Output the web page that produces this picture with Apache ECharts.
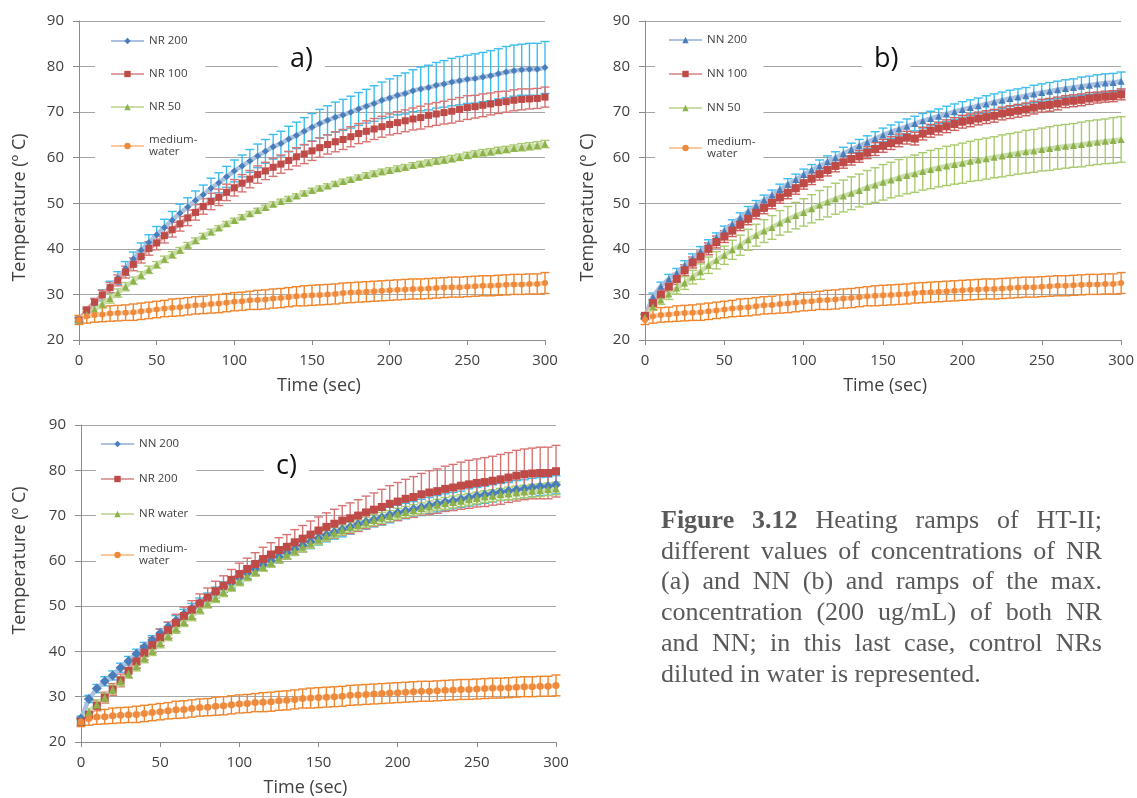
<!DOCTYPE html>
<html>
<head>
<meta charset="utf-8">
<script src="https://cdn.jsdelivr.net/npm/echarts@6/dist/echarts.min.js"></script>
<style>
  html, body { margin: 0; padding: 0; background: #fff; }
  #chart { position: absolute; left: 0; top: 0; width: 1137px; height: 798px; }
  #caption { position: absolute; left: 661px; top: 505px; width: 441px;
    font-family: 'Liberation Serif', 'Times New Roman', serif; font-size: 26px;
    line-height: 30.7px; color: #595959; }
  #caption div { text-align: justify; text-align-last: justify; white-space: nowrap; }
  #caption div.last { text-align: left; text-align-last: left; }
</style>
</head>
<body>
<div id="chart"></div>
<div id="caption">
  <div><b>Figure 3.12</b> Heating ramps of HT-II;</div>
  <div>different values of concentrations of NR</div>
  <div>(a) and NN (b) and ramps of the max.</div>
  <div>concentration (200 ug/mL) of both NR</div>
  <div>and NN; in this last case, control NRs</div>
  <div class="last">diluted in water is represented.</div>
</div>
<script>
// tiempo (s)
const times = [0, 5, 10, 15, 20, 25, 30, 35, 40, 45,
  50, 55, 60, 65, 70, 75, 80, 85, 90, 95,
  100, 105, 110, 115, 120, 125, 130, 135, 140, 145,
  150, 155, 160, 165, 170, 175, 180, 185, 190, 195,
  200, 205, 210, 215, 220, 225, 230, 235, 240, 245,
  250, 255, 260, 265, 270, 275, 280, 285, 290, 295,
  300];

// NR 200
const nr200 = [24.4, 26.0, 28.0, 29.8, 31.6, 33.6, 35.7, 37.8, 39.7, 41.4,
  43.1, 44.7, 46.3, 47.8, 49.2, 50.6, 51.9, 53.3, 54.5, 55.8,
  57.1, 58.2, 59.3, 60.4, 61.4, 62.4, 63.1, 64.1, 64.9, 65.8,
  66.7, 67.5, 68.2, 68.9, 69.4, 70.0, 70.7, 71.3, 71.9, 72.6,
  73.1, 73.7, 74.1, 74.7, 75.1, 75.4, 75.9, 76.2, 76.6, 76.9,
  77.2, 77.4, 77.7, 78.0, 78.4, 78.8, 79.1, 79.3, 79.4, 79.4,
  79.8];
const nr200Err = [0.6, 0.9, 1.1, 1.2, 1.3, 1.4, 1.5, 1.5, 1.6, 1.7,
  1.8, 1.8, 1.9, 2.0, 2.0, 2.1, 2.1, 2.2, 2.2, 2.3,
  2.4, 2.4, 2.5, 2.6, 2.6, 2.7, 2.7, 2.8, 2.9, 3.0,
  3.0, 3.1, 3.2, 3.3, 3.4, 3.5, 3.6, 3.7, 3.9, 4.0,
  4.2, 4.3, 4.5, 4.6, 4.8, 4.9, 5.0, 5.1, 5.2, 5.3,
  5.3, 5.4, 5.4, 5.5, 5.5, 5.6, 5.6, 5.6, 5.7, 5.7,
  5.7];

// NR 100
const nr100 = [24.4, 26.6, 28.3, 29.9, 31.5, 33.1, 34.9, 36.6, 38.3, 40.1,
  41.3, 42.9, 44.2, 45.5, 46.8, 48.0, 49.3, 50.4, 51.3, 52.4,
  53.4, 54.4, 55.3, 56.3, 57.1, 57.9, 58.6, 59.4, 60.2, 60.8,
  61.5, 62.2, 62.9, 63.5, 64.0, 64.6, 65.3, 65.8, 66.3, 66.8,
  67.3, 67.7, 68.1, 68.5, 68.8, 69.3, 69.6, 69.9, 70.2, 70.6,
  71.0, 71.2, 71.5, 71.8, 72.1, 72.3, 72.6, 72.8, 72.9, 73.0,
  73.3];
const nr100Err = [0.3, 0.6, 0.8, 1.0, 1.1, 1.2, 1.3, 1.4, 1.4, 1.5,
  1.5, 1.6, 1.6, 1.6, 1.7, 1.7, 1.7, 1.8, 1.8, 1.8,
  1.8, 1.9, 1.9, 1.9, 1.9, 2.0, 2.0, 2.0, 2.0, 2.1,
  2.1, 2.1, 2.1, 2.2, 2.2, 2.2, 2.2, 2.3, 2.3, 2.3,
  2.3, 2.4, 2.4, 2.4, 2.5, 2.5, 2.5, 2.5, 2.6, 2.6,
  2.6, 2.5, 2.5, 2.4, 2.4, 2.3, 2.3, 2.3, 2.2, 2.2,
  2.2];

// NR 50
const nr50 = [24.4, 25.6, 26.8, 27.9, 29.1, 30.3, 31.7, 33.0, 34.2, 35.4,
  36.5, 37.7, 38.7, 39.7, 40.8, 41.8, 42.8, 43.7, 44.6, 45.5,
  46.2, 47.0, 47.7, 48.4, 49.1, 49.8, 50.4, 51.0, 51.6, 52.2,
  52.8, 53.3, 53.8, 54.3, 54.8, 55.2, 55.7, 56.1, 56.5, 56.9,
  57.2, 57.6, 57.9, 58.3, 58.6, 58.9, 59.2, 59.5, 59.8, 60.1,
  60.5, 60.8, 61.1, 61.3, 61.6, 61.8, 62.1, 62.3, 62.5, 62.7,
  63.0];
const nr50Err = [0.3, 0.6, 0.8, 0.9, 1.0, 0.9, 0.9, 0.8, 0.8, 0.8,
  0.7, 0.7, 0.7, 0.6, 0.6, 0.6, 0.6, 0.6, 0.5, 0.5,
  0.5, 0.5, 0.5, 0.5, 0.5, 0.5, 0.5, 0.5, 0.5, 0.5,
  0.5, 0.5, 0.5, 0.5, 0.5, 0.5, 0.5, 0.6, 0.6, 0.6,
  0.6, 0.6, 0.6, 0.6, 0.6, 0.6, 0.6, 0.7, 0.7, 0.7,
  0.7, 0.7, 0.7, 0.7, 0.7, 0.7, 0.7, 0.8, 0.8, 0.8,
  0.8];

// medium-water (control, igual en a, b, c)
const water = [24.4, 25.2, 25.5, 25.6, 25.8, 25.9, 26.0, 26.1, 26.3, 26.5,
  26.7, 26.9, 27.1, 27.2, 27.4, 27.6, 27.7, 27.9, 28.0, 28.2,
  28.4, 28.5, 28.7, 28.8, 28.9, 29.1, 29.2, 29.4, 29.6, 29.7,
  29.8, 29.9, 30.0, 30.1, 30.3, 30.4, 30.5, 30.6, 30.7, 30.8,
  30.9, 31.0, 31.1, 31.2, 31.2, 31.3, 31.4, 31.5, 31.6, 31.6,
  31.7, 31.8, 31.9, 31.9, 32.0, 32.1, 32.2, 32.2, 32.3, 32.3,
  32.5];
const waterErr = [1.0, 1.5, 1.6, 1.6, 1.7, 1.7, 1.7, 1.8, 1.8, 1.8,
  1.8, 1.8, 1.9, 1.9, 1.9, 1.9, 1.9, 2.0, 2.0, 2.0,
  2.0, 2.0, 2.0, 2.1, 2.1, 2.1, 2.1, 2.1, 2.1, 2.2,
  2.2, 2.2, 2.2, 2.2, 2.2, 2.2, 2.2, 2.2, 2.2, 2.2,
  2.2, 2.2, 2.2, 2.2, 2.2, 2.2, 2.2, 2.2, 2.2, 2.2,
  2.2, 2.2, 2.2, 2.2, 2.2, 2.2, 2.2, 2.2, 2.2, 2.2,
  2.3];

// NN 200
const nn200 = [25.2, 29.5, 31.8, 33.4, 34.7, 36.4, 37.9, 39.5, 41.0, 42.5,
  44.0, 45.4, 46.8, 48.2, 49.5, 50.7, 51.8, 53.0, 54.2, 55.2,
  56.3, 57.3, 58.2, 59.1, 60.0, 60.9, 61.8, 62.6, 63.4, 64.2,
  65.0, 65.7, 66.3, 66.9, 67.5, 68.1, 68.6, 69.1, 69.6, 70.1,
  70.6, 71.0, 71.4, 71.8, 72.2, 72.6, 73.0, 73.3, 73.6, 74.0,
  74.3, 74.6, 74.9, 75.2, 75.4, 75.7, 75.9, 76.2, 76.4, 76.5,
  76.8];
const nn200Err = [0.5, 0.8, 0.9, 1.0, 1.0, 1.0, 1.0, 1.0, 1.0, 1.0,
  1.0, 1.0, 1.1, 1.1, 1.1, 1.1, 1.1, 1.2, 1.2, 1.2,
  1.2, 1.2, 1.3, 1.3, 1.3, 1.4, 1.4, 1.4, 1.4, 1.5,
  1.5, 1.5, 1.5, 1.6, 1.6, 1.6, 1.6, 1.6, 1.7, 1.7,
  1.7, 1.7, 1.7, 1.8, 1.8, 1.8, 1.8, 1.8, 1.8, 1.9,
  1.9, 1.9, 1.9, 1.9, 1.9, 2.0, 2.0, 2.0, 2.0, 2.0,
  2.0];

// NN 100
const nn100 = [25.3, 28.1, 30.0, 31.7, 33.4, 35.3, 37.0, 38.3, 40.0, 41.5,
  42.7, 44.0, 45.3, 46.6, 47.9, 49.0, 50.1, 51.3, 52.3, 53.3,
  54.4, 55.4, 56.4, 57.3, 58.2, 59.0, 59.7, 60.3, 61.1, 61.9,
  62.6, 63.2, 63.8, 64.4, 64.2, 65.3, 65.9, 66.4, 66.9, 67.4,
  67.9, 68.2, 68.6, 68.9, 69.2, 69.7, 70.0, 70.3, 70.6, 71.0,
  71.4, 71.6, 71.9, 72.3, 72.5, 72.7, 73.0, 73.2, 73.4, 73.5,
  73.9];
const nn100Err = [0.4, 0.8, 1.0, 1.1, 1.2, 1.2, 1.2, 1.2, 1.3, 1.3,
  1.3, 1.3, 1.3, 1.3, 1.3, 1.3, 1.3, 1.3, 1.3, 1.3,
  1.3, 1.3, 1.3, 1.3, 1.3, 1.3, 1.3, 1.3, 1.3, 1.4,
  1.4, 1.4, 1.4, 1.4, 1.4, 1.4, 1.4, 1.4, 1.4, 1.4,
  1.4, 1.4, 1.4, 1.4, 1.4, 1.4, 1.4, 1.4, 1.4, 1.4,
  1.4, 1.4, 1.4, 1.3, 1.3, 1.3, 1.3, 1.2, 1.2, 1.2,
  1.2];

// NN 50
const nn50 = [25.0, 27.3, 28.8, 30.1, 31.4, 32.5, 33.8, 35.0, 36.4, 37.5,
  38.6, 39.8, 40.8, 42.0, 43.0, 43.9, 44.7, 45.7, 46.5, 47.3,
  48.0, 48.8, 49.6, 50.3, 51.0, 51.6, 52.2, 52.8, 53.5, 54.0,
  54.6, 55.1, 55.6, 56.1, 56.5, 57.0, 57.4, 57.8, 58.2, 58.5,
  58.8, 59.2, 59.5, 59.8, 60.1, 60.4, 60.7, 61.0, 61.3, 61.5,
  61.8, 62.0, 62.3, 62.5, 62.7, 62.9, 63.2, 63.4, 63.6, 63.8,
  64.0];
const nn50Err = [0.5, 0.8, 1.0, 1.2, 1.3, 1.4, 1.5, 1.7, 1.8, 1.9,
  2.0, 2.1, 2.2, 2.3, 2.4, 2.5, 2.6, 2.7, 2.8, 2.9,
  3.0, 3.1, 3.2, 3.3, 3.4, 3.5, 3.6, 3.6, 3.7, 3.8,
  3.9, 3.9, 4.0, 4.0, 4.1, 4.1, 4.2, 4.2, 4.3, 4.3,
  4.4, 4.4, 4.5, 4.5, 4.5, 4.6, 4.6, 4.6, 4.7, 4.7,
  4.7, 4.8, 4.8, 4.8, 4.8, 4.9, 4.9, 4.9, 4.9, 5.0,
  5.0];

// NR water
const nrWater = [24.6, 26.6, 28.3, 29.8, 31.6, 33.4, 35.1, 36.7, 38.5, 40.1,
  41.8, 43.4, 45.0, 46.5, 47.8, 49.3, 50.6, 51.8, 53.1, 54.3,
  55.5, 56.6, 57.6, 58.7, 59.6, 60.5, 61.4, 62.3, 63.1, 63.9,
  64.7, 65.5, 66.2, 66.8, 67.4, 67.9, 68.5, 69.0, 69.5, 69.9,
  70.4, 70.8, 71.2, 71.6, 72.0, 72.4, 72.7, 73.0, 73.3, 73.6,
  73.9, 74.2, 74.4, 74.7, 74.9, 75.1, 75.3, 75.5, 75.6, 75.8,
  76.0];
const nrWaterErr = [0.5, 0.8, 1.0, 1.0, 1.0, 1.0, 1.0, 1.0, 1.0, 1.0,
  1.0, 1.0, 1.0, 1.0, 1.0, 1.0, 1.0, 1.0, 1.0, 1.0,
  1.0, 1.0, 1.0, 1.0, 1.0, 1.0, 1.0, 1.1, 1.1, 1.1,
  1.1, 1.1, 1.1, 1.1, 1.1, 1.1, 1.1, 1.2, 1.2, 1.2,
  1.2, 1.2, 1.2, 1.2, 1.2, 1.2, 1.3, 1.3, 1.3, 1.3,
  1.3, 1.3, 1.3, 1.3, 1.4, 1.4, 1.4, 1.4, 1.4, 1.4,
  1.4];

const yTicks = [20, 90, 10];   // min, max, paso
const xTicks = [0, 300, 50];

const FONT = 'Open Sans';
const TXT = '#404040';
const AXIS = '#8c8c8c';

// colores estilo Excel 2010
const BLUE = { line: '#a9c2e0', mark: '#4a7ebb' };
const RED = { line: '#dca3a2', mark: '#be4b48' };
const GREEN = { line: '#cadca8', mark: '#8db24c' };
const ORANGE = { line: '#fbc89e', mark: '#ee8a3c' };

const panels = [
  { tag: 'a', series: [
    { name: 'NR 200', vals: nr200, errs: nr200Err, sym: 'diamond', size: 7, c: BLUE, err: '#3bbdf0' },
    { name: 'NR 100', vals: nr100, errs: nr100Err, sym: 'rect', size: 7, c: RED, err: '#d77473' },
    { name: 'NR 50', vals: nr50, errs: nr50Err, sym: 'triangle', size: 7, c: GREEN, err: '#a9cb6e' },
    { name: 'medium-water', vals: water, errs: waterErr, sym: 'circle', size: 6, c: ORANGE, err: '#f0852c' }
  ]},
  { tag: 'b', series: [
    { name: 'NN 200', vals: nn200, errs: nn200Err, sym: 'triangle', size: 7, c: BLUE, err: '#3bbdf0' },
    { name: 'NN 100', vals: nn100, errs: nn100Err, sym: 'rect', size: 8, c: RED, err: '#cd5f5c' },
    { name: 'NN 50', vals: nn50, errs: nn50Err, sym: 'triangle', size: 7, c: GREEN, err: '#a9cb6e' },
    { name: 'medium-water', vals: water, errs: waterErr, sym: 'circle', size: 6, c: ORANGE, err: '#f0852c' }
  ]},
  { tag: 'c', series: [
    { name: 'NN 200', vals: nn200, errs: nn200Err, sym: 'diamond', size: 10, c: BLUE, err: '#3bbdf0' },
    { name: 'NR 200', vals: nr200, errs: nr200Err, sym: 'rect', size: 8, c: RED, err: '#d77473' },
    { name: 'NR water', vals: nrWater, errs: nrWaterErr, sym: 'triangle', size: 8, c: GREEN, err: '#a9cb6e' },
    { name: 'medium-water', vals: water, errs: waterErr, sym: 'circle', size: 7, c: ORANGE, err: '#f0852c' }
  ]}
];

const grids = [
  { left: 79, top: 21, width: 466, height: 319 },
  { left: 645, top: 21, width: 477, height: 319 },
  { left: 81, top: 425, width: 475, height: 320 }
];

function errorSeries(idx, s) {
  const data = times.map((t, i) => [t, s.vals[i] - s.errs[i], s.vals[i] + s.errs[i]]);
  return {
    type: 'custom',
    name: panels[idx].tag + '|' + s.name + ' err',
    xAxisIndex: idx,
    yAxisIndex: idx,
    data: data,
    silent: true,
    z: 2,
    renderItem: function (params, api) {
      const x = api.value(0);
      const lo = api.coord([x, api.value(1)]);
      const hi = api.coord([x, api.value(2)]);
      const w = 4.5;
      const st = { stroke: s.err, lineWidth: 1.4 };
      return {
        type: 'group',
        children: [
          { type: 'line', shape: { x1: lo[0], y1: lo[1], x2: hi[0], y2: hi[1] }, style: st },
          { type: 'line', shape: { x1: lo[0] - w, y1: lo[1], x2: lo[0] + w, y2: lo[1] }, style: st },
          { type: 'line', shape: { x1: hi[0] - w, y1: hi[1], x2: hi[0] + w, y2: hi[1] }, style: st }
        ]
      };
    }
  };
}

function lineSeries(idx, s) {
  return {
    type: 'line',
    name: panels[idx].tag + '|' + s.name,
    xAxisIndex: idx,
    yAxisIndex: idx,
    data: times.map((t, i) => [t, s.vals[i]]),
    symbol: s.sym,
    symbolSize: s.size,
    showSymbol: true,
    lineStyle: { color: s.c.line, width: 4.5 },
    itemStyle: { color: s.c.mark },
    z: 3
  };
}

const series = [];
panels.forEach((p, idx) => {
  p.series.forEach(s => series.push(errorSeries(idx, s)));
  p.series.forEach(s => series.push(lineSeries(idx, s)));
});

function legendLabel(name) {
  const n = name.split('|')[1];
  return n === 'medium-water' ? 'medium-\nwater' : n;
}

const legendPos = [
  { left: 95, top: 27, pad: [8, 8, 8, 15], gap: 21 },
  { left: 655, top: 26, pad: [8, 8, 8, 13], gap: 22 },
  { left: 96, top: 430, pad: [8, 8, 8, 4], gap: 23 }
];

const titlePos = [
  { left: 278, top: 46 },
  { left: 862, top: 46 },
  { left: 264, top: 453 }
];

const yNameGap = [50, 48, 52];
const yNamePad = [[0, 54, 0, 0], [0, 54, 0, 0], [0, 0, 0, 46]];
const xNamePad = [[0, 0, 0, 14], [0, 0, 0, 4], [0, 26, 0, 0]];

const option = {
  animation: false,
  backgroundColor: '#fff',
  textStyle: { fontFamily: FONT },
  title: panels.map((p, i) => ({
    text: p.tag + ')',
    left: titlePos[i].left,
    top: titlePos[i].top,
    backgroundColor: '#fff',
    padding: [0, 12, 0, 12],
    textStyle: { fontFamily: FONT, fontSize: 27, fontWeight: 'normal', color: '#111' }
  })),
  legend: panels.map((p, i) => ({
    data: p.series.map(s => p.tag + '|' + s.name),
    orient: 'vertical',
    left: legendPos[i].left,
    top: legendPos[i].top,
    padding: legendPos[i].pad,
    itemGap: legendPos[i].gap,
    itemWidth: 33,
    itemHeight: 8,
    backgroundColor: '#fff',
    selectedMode: false,
    formatter: legendLabel,
    textStyle: { fontFamily: FONT, fontSize: 11.5, color: TXT, lineHeight: 12 }
  })),
  grid: grids,
  xAxis: grids.map((g, i) => ({
    type: 'value',
    gridIndex: i,
    min: xTicks[0],
    max: xTicks[1],
    interval: xTicks[2],
    name: 'Time (sec)',
    nameLocation: 'middle',
    nameGap: 37,
    nameTextStyle: { fontFamily: FONT, fontSize: 18, color: TXT, padding: xNamePad[i] },
    axisLine: { lineStyle: { color: AXIS, width: 1 } },
    axisTick: { show: true, length: 5, lineStyle: { color: AXIS } },
    axisLabel: { fontFamily: FONT, fontSize: 15, color: TXT, margin: 13 },
    splitLine: { show: false }
  })),
  yAxis: grids.map((g, i) => ({
    type: 'value',
    gridIndex: i,
    min: yTicks[0],
    max: yTicks[1],
    interval: yTicks[2],
    name: 'Temperature (º C)',
    nameLocation: 'middle',
    nameGap: yNameGap[i],
    nameRotate: 90,
    nameTextStyle: { fontFamily: FONT, fontSize: 18, color: TXT, padding: yNamePad[i] },
    axisLine: { show: true, lineStyle: { color: AXIS, width: 1 } },
    axisTick: { show: true, length: 6, lineStyle: { color: AXIS } },
    axisLabel: { fontFamily: FONT, fontSize: 15, color: TXT, margin: 15 },
    splitLine: { show: true, lineStyle: { color: '#a6a6a6', width: 1.2 } }
  })),
  series: series
};

const chart = echarts.init(document.getElementById('chart'), null, { renderer: 'canvas' });
chart.setOption(option);
</script>
</body>
</html>
